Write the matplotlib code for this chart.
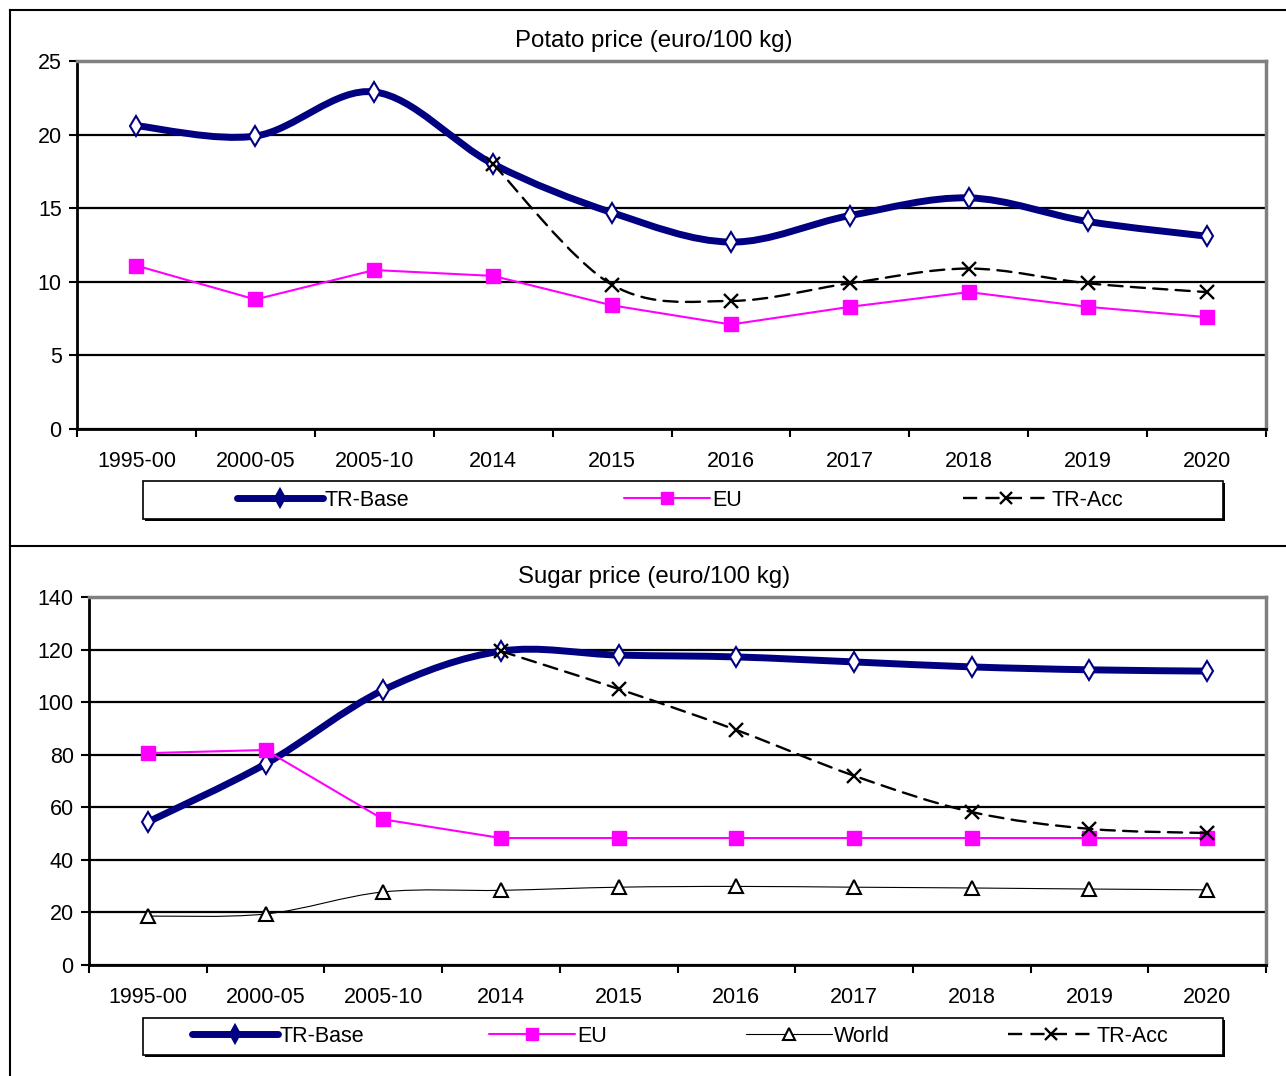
import matplotlib
matplotlib.use('Agg')
import matplotlib.pyplot as plt
import numpy as np
from matplotlib.path import Path
from matplotlib.patches import PathPatch, Rectangle
from matplotlib.lines import Line2D

plt.rcParams['font.family'] = ['Liberation Sans', 'DejaVu Sans']

# categories
periods = ['1995-00', '2000-05', '2005-10', '2014', '2015', '2016', '2017', '2018', '2019', '2020']

# potato prices (euro/100 kg)
potato_tr_base = [20.6, 19.9, 22.9, 18.0, 14.7, 12.7, 14.5, 15.7, 14.1, 13.1]
potato_eu = [11.1, 8.8, 10.8, 10.4, 8.4, 7.1, 8.3, 9.3, 8.3, 7.6]
potato_tr_acc = [np.nan, np.nan, np.nan, 18.0, 9.8, 8.7, 9.9, 10.9, 9.9, 9.3]

# sugar prices (euro/100 kg)
sugar_tr_base = [54.4, 76.5, 104.6, 119.4, 117.9, 117.2, 115.3, 113.4, 112.3, 111.8]
sugar_eu = [80.6, 81.8, 55.4, 48.3, 48.3, 48.3, 48.3, 48.3, 48.3, 48.3]
sugar_world = [18.6, 19.4, 27.8, 28.4, 29.6, 29.9, 29.6, 29.3, 28.9, 28.6]
sugar_tr_acc = [np.nan, np.nan, np.nan, 119.4, 105.0, 89.4, 72.0, 58.2, 51.8, 50.2]

W, H = 1286, 1076
NAVY = '#000080'
MAGENTA = '#FF00FF'

styles = {
    'TR-Base': dict(color=NAVY, lw=5, marker='d', ms=10.5, mfc='white', mec=NAVY, mew=1.5,
                    ls='-', smooth=True, legend_mfc=NAVY),
    'EU': dict(color=MAGENTA, lw=1.5, marker='s', ms=10, mfc=MAGENTA, mec=MAGENTA, mew=1,
               ls='-', smooth=False, legend_mfc=MAGENTA),
    'World': dict(color='black', lw=0.8, marker='^', ms=10, mfc='white', mec='black', mew=1.5,
                  ls='-', smooth=True, legend_mfc='white'),
    'TR-Acc': dict(color='black', lw=1.7, marker='x', ms=10, mfc='black', mec='black', mew=1.7,
                   ls=(0, (6, 3.5)), smooth=True, legend_mfc='black'),
}


def smooth_path(xs, ys):
    # excel-like smoothed line: cubic bezier through the points
    pts = np.column_stack([xs, ys])
    verts = [pts[0]]
    codes = [Path.MOVETO]
    n = len(pts)
    for i in range(n - 1):
        p0 = pts[max(i - 1, 0)]
        p1 = pts[i]
        p2 = pts[i + 1]
        p3 = pts[min(i + 2, n - 1)]
        verts += [p1 + (p2 - p0) / 6, p2 - (p3 - p1) / 6, p2]
        codes += [Path.CURVE4] * 3
    return Path(verts, codes)


def draw_series(ax, name, values, z):
    st = styles[name]
    vals = np.array(values, dtype=float)
    xs = np.arange(len(vals))
    ok = ~np.isnan(vals)
    xs, vals = xs[ok], vals[ok]
    if st['smooth']:
        patch = PathPatch(smooth_path(xs, vals), fill=False, edgecolor=st['color'], lw=st['lw'],
                          linestyle=st['ls'], capstyle='round', joinstyle='round', zorder=z)
        ax.add_patch(patch)
    else:
        ax.plot(xs, vals, color=st['color'], lw=st['lw'], ls=st['ls'], zorder=z)
    ax.plot(xs, vals, ls='none', marker=st['marker'], ms=st['ms'], mfc=st['mfc'],
            mec=st['mec'], mew=st['mew'], zorder=z + 0.1)


def handle(name):
    st = styles[name]
    return Line2D([], [], color=st['color'], lw=st['lw'], ls=st['ls'], marker=st['marker'],
                  ms=st['ms'] * 0.85, mfc=st['legend_mfc'], mec=st['mec'], mew=st['mew'],
                  solid_capstyle='round', label=name)


def setup_axes(rect, ymax, ystep):
    ax = fig.add_axes(rect)
    n = len(periods)
    ax.set_xlim(-0.5, n - 0.5)
    ax.set_ylim(0, ymax)
    ax.set_yticks(np.arange(0, ymax + 1, ystep))
    ax.set_xticks(np.arange(-0.5, n, 1.0))
    ax.set_xticklabels([])
    ax.set_xticks(np.arange(n), minor=True)
    ax.set_xticklabels(periods, minor=True)
    ax.tick_params(axis='x', which='major', direction='out', length=6, width=1.5, color='black')
    ax.tick_params(axis='x', which='minor', length=0, pad=16, labelsize=15.5)
    ax.tick_params(axis='y', direction='out', length=6, width=1.5, pad=5, labelsize=15.5)
    ax.yaxis.grid(True, color='black', lw=1.6)
    ax.set_axisbelow(True)
    for side in ('left', 'bottom'):
        ax.spines[side].set_color('black')
        ax.spines[side].set_linewidth(2)
    for side in ('top', 'right'):
        ax.spines[side].set_color('#808080')
        ax.spines[side].set_linewidth(2.5)
    ax.spines['bottom'].set_zorder(3)
    return ax


def legend_box(names, y_top, y_bot):
    x0, x1 = 143, 1223
    fig.add_artist(Rectangle(((x0 + 2) / W, 1 - (y_bot + 2) / H), (x1 - x0) / W, (y_bot - y_top) / H,
                             transform=fig.transFigure, facecolor='black', edgecolor='none', zorder=4))
    fig.add_artist(Rectangle((x0 / W, 1 - y_bot / H), (x1 - x0) / W, (y_bot - y_top) / H,
                             transform=fig.transFigure, facecolor='white', edgecolor='black',
                             lw=1.2, zorder=5))
    slot = (x1 - x0) / len(names)
    yc = 1 - (y_top + y_bot) / 2 / H
    for i, name in enumerate(names):
        xc = (x0 + slot * (i + 0.5)) / W
        leg = fig.legend(handles=[handle(name)], loc='center', bbox_to_anchor=(xc, yc),
                         frameon=False, fontsize=15.5, handlelength=4, handletextpad=0.1,
                         borderpad=0, borderaxespad=0)
        leg.set_zorder(6)


fig = plt.figure(figsize=(W / 100, H / 100), dpi=100)

# panel frames
for xs, ys in [([10, 10], [10, H]), ([10, W], [10, 10]), ([10, W], [546, 546])]:
    fig.add_artist(Line2D([x / W for x in xs], [1 - y / H for y in ys], transform=fig.transFigure,
                          color='black', lw=1.5))

# potato panel
ax1 = setup_axes([77 / W, 1 - 429 / H, (1266 - 77) / W, (429 - 61) / H], 25, 5)
draw_series(ax1, 'TR-Base', potato_tr_base, 3)
draw_series(ax1, 'EU', potato_eu, 4)
draw_series(ax1, 'TR-Acc', potato_tr_acc, 5)
fig.text(654 / W, 1 - 41 / H, 'Potato price (euro/100 kg)', ha='center', va='center', fontsize=17.3)
legend_box(['TR-Base', 'EU', 'TR-Acc'], 481, 519)

# sugar panel
ax2 = setup_axes([89 / W, 1 - 965 / H, (1266 - 89) / W, (965 - 597) / H], 140, 20)
draw_series(ax2, 'TR-Base', sugar_tr_base, 3)
draw_series(ax2, 'EU', sugar_eu, 4)
draw_series(ax2, 'World', sugar_world, 5)
draw_series(ax2, 'TR-Acc', sugar_tr_acc, 6)
fig.text(654 / W, 1 - 577 / H, 'Sugar price (euro/100 kg)', ha='center', va='center', fontsize=17.3)
legend_box(['TR-Base', 'EU', 'World', 'TR-Acc'], 1018, 1055)

fig.savefig('out.png', dpi=100)
